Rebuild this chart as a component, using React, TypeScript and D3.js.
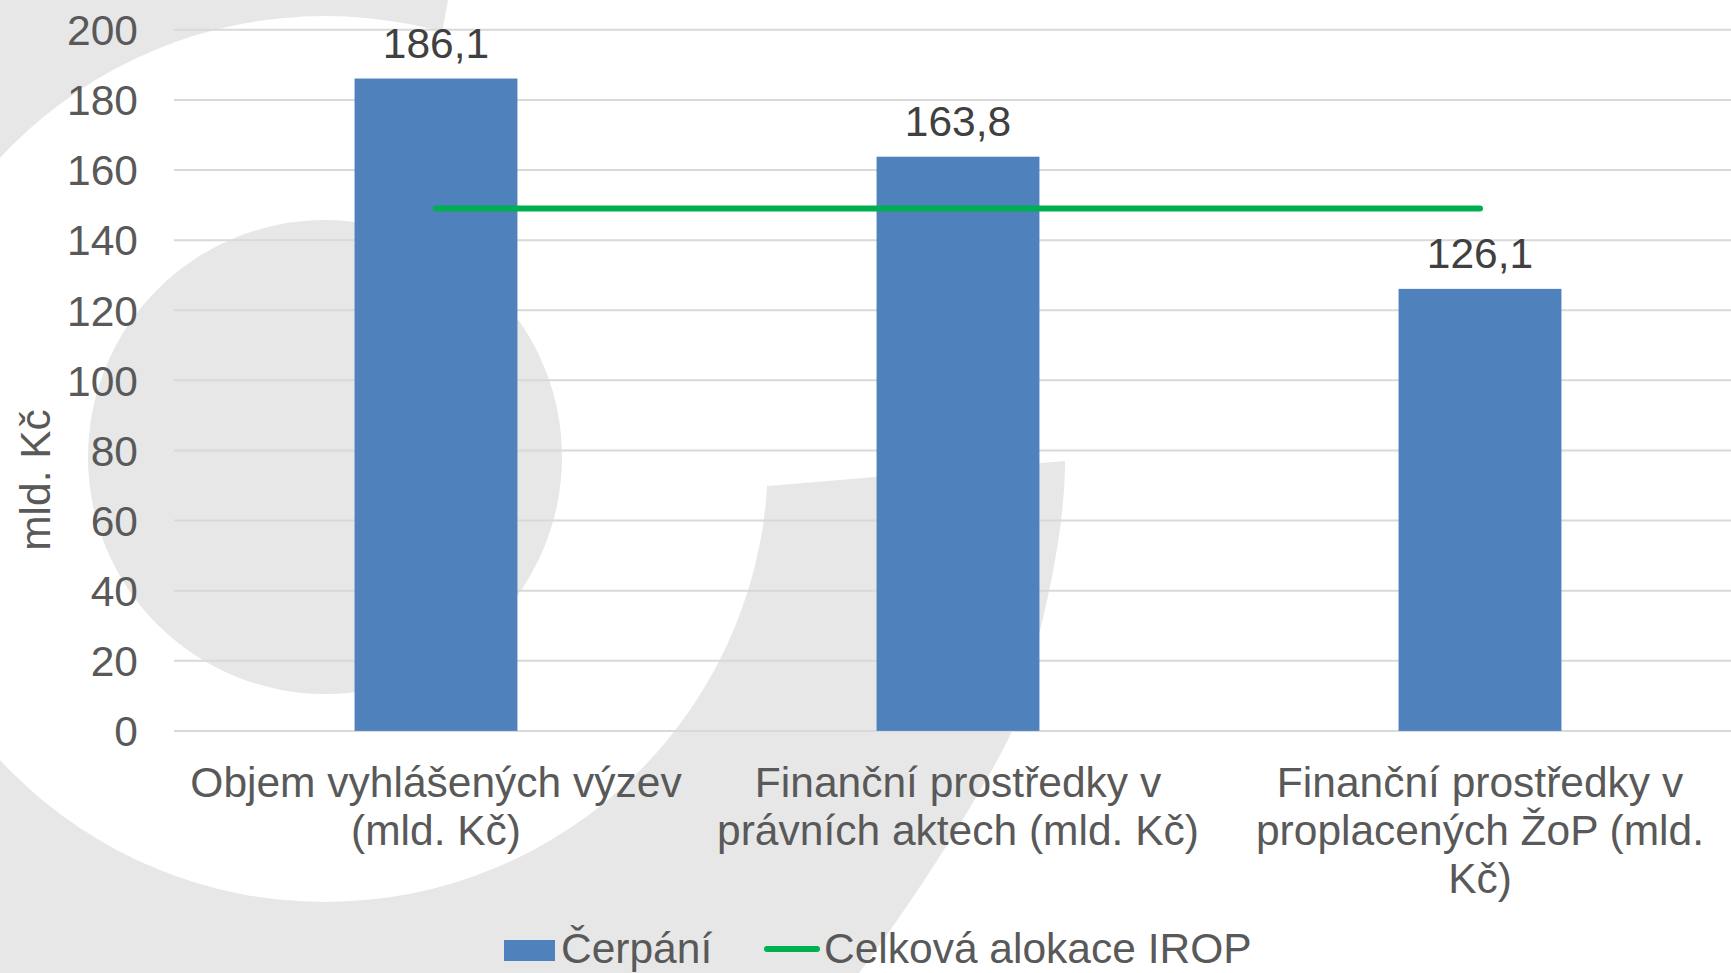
import React from "react";
import * as d3 from "d3";

// categories (each label split into its printed lines)
const categories = ["objem", "akty", "zop"];
const categoryLines = [
  ["Objem vyhlášených výzev", "(mld. Kč)"],
  ["Finanční prostředky v", "právních aktech (mld. Kč)"],
  ["Finanční prostředky v", "proplacených ŽoP (mld.", "Kč)"],
];
const cerpani = [186.1, 163.8, 126.1];
const alokaceIrop = [149, 149, 149];
const yTicks = [0, 20, 40, 60, 80, 100, 120, 140, 160, 180, 200];
const legendLabels = ["Čerpání", "Celková alokace IROP"];

const fmt = (v: number) => v.toFixed(1).replace(".", ",");

export default function App() {
  const width = 1731, height = 973;
  const plotLeft = 174, plotTop = 29.8, plotBottom = 730.9;

  const yScale = d3.scaleLinear().domain([0, 200]).range([plotBottom, plotTop]);

  const xScale = d3.scaleBand()
    .domain(categories)
    .range([175, 1741])
    .paddingInner(0.688)
    .paddingOuter(0.344);

  const bw = xScale.bandwidth();
  const cx = (c: string) => (xScale(c) as number) + bw / 2;

  const line = d3.line<number>()
    .x((d, i) => cx(categories[i]))
    .y(d => yScale(d));

  const font = "'Liberation Sans', Arial, sans-serif";
  const fs = 42.5;
  const gray = "#e7e7e7";

  // decorative background logo
  const bgRight = "M448,0 L1731,0 L1731,973 L859,973 C930,880 1000,760 1012,731 C1040,640 1065,540 1065,461 L768,486 L552,331 L442,33 Z";

  return (
    <svg width={width} height={height} style={{ position: "absolute", left: 0, top: 0 }}>
      <rect x={0} y={0} width={width} height={height} fill={gray} />
      <circle cx={325} cy={459} r={443} fill="#ffffff" />
      <circle cx={325} cy={457} r={237} fill={gray} />
      <path d={bgRight} fill="#ffffff" />

      {/* gridlines + y ticks */}
      {yTicks.map(t => (
        <g key={t} transform={`translate(0,${yScale(t)})`}>
          <line x1={plotLeft} x2={width} y1={0} y2={0} stroke="#d9d9d9" strokeWidth={2} />
          <text x={138} y={0} dy="0.36em" textAnchor="end" fontFamily={font} fontSize={fs} fill="#595959">{t}</text>
        </g>
      ))}

      <text transform={`translate(50,480) rotate(-90)`} textAnchor="middle" fontFamily={font} fontSize={fs} fill="#595959">mld. Kč</text>

      {/* bars */}
      {categories.map((c, i) => (
        <g key={c}>
          <rect x={xScale(c)} y={yScale(cerpani[i])} width={bw} height={plotBottom - yScale(cerpani[i])} fill="#4f81bd" />
          <text x={cx(c)} y={yScale(cerpani[i]) - 21} textAnchor="middle" fontFamily={font} fontSize={fs} fill="#404040">{fmt(cerpani[i])}</text>
        </g>
      ))}

      {/* allocation line */}
      <path d={line(alokaceIrop) || ""} fill="none" stroke="#00b050" strokeWidth={6} strokeLinecap="round" />

      {/* category labels */}
      {categories.map((c, i) => (
        <text key={c} textAnchor="middle" fontFamily={font} fontSize={fs} fill="#595959">
          {categoryLines[i].map((l, j) => (
            <tspan key={j} x={cx(c)} y={797 + j * 48}>{l}</tspan>
          ))}
        </text>
      ))}

      {/* legend */}
      <rect x={504} y={940} width={51} height={21} fill="#4f81bd" />
      <text x={561} y={963} fontFamily={font} fontSize={fs} fill="#595959">{legendLabels[0]}</text>
      <line x1={767} x2={817} y1={949} y2={949} stroke="#00b050" strokeWidth={6} strokeLinecap="round" />
      <text x={824} y={963} fontFamily={font} fontSize={fs} fill="#595959">{legendLabels[1]}</text>
    </svg>
  );
}
